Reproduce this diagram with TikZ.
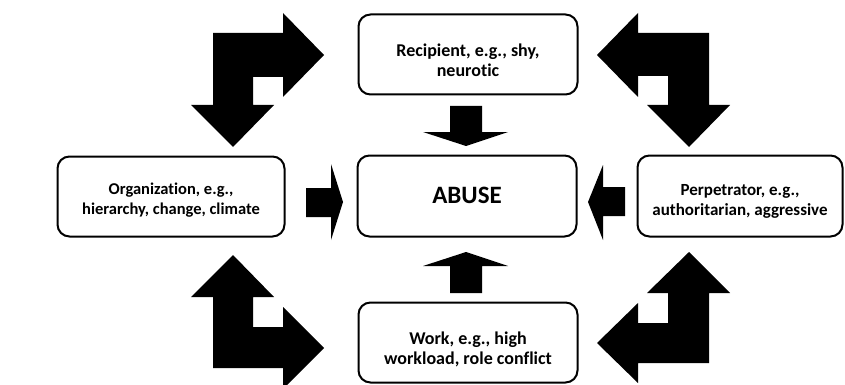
\documentclass[tikz,border=0pt]{standalone}
\usepackage{fontspec}
\setmainfont{Carlito}[Ligatures=NoCommon]
\begin{document}
\begin{tikzpicture}[x=1pt,y=-1pt,
  box/.style={draw=black,line width=2pt,rounded corners=12pt,inner sep=0pt},
  txt/.style={align=center,inner sep=0pt,font=\bfseries\fontsize{16.5}{20}\selectfont},
  bigtxt/.style={txt,font=\bfseries\fontsize{18}{20}\selectfont},
  blockarrow/.style={fill=black,draw=none}]
\useasboundingbox (0,0) rectangle (845,385);
\clip (0,0) rectangle (845,385);
% boxes
\node[box,minimum width=219pt,minimum height=80pt] (rec) at (468,54.5) {};
\node[bigtxt] (rect) at ([yshift=-6pt]rec.center) {Recipient, e.g., shy,\\neurotic};
\node[box,minimum width=219pt,minimum height=81pt] (abuse) at (467,196) {};
\node[txt,font=\bfseries\fontsize{25}{28}\selectfont] (abuset) at ([yshift=1pt]abuse.center) {ABUSE};
\node[box,minimum width=219pt,minimum height=80pt] (work) at (468,342.5) {};
\node[bigtxt] (workt) at ([yshift=-7pt]work.center) {Work, e.g., high\\workload, role conflict};
\node[box,minimum width=227pt,minimum height=80pt] (org) at (171,196.5) {};
\node[txt] (orgt) at ([yshift=-4pt]org.center) {Organization, e.g.,\\hierarchy, change, climate};
\node[box,minimum width=205pt,minimum height=81pt] (perp) at (740,196) {};
\node[txt,font=\bfseries\fontsize{17}{20}\selectfont] (perpt) at ([yshift=-5pt]perp.center) {Perpetrator, e.g.,\\authoritarian, aggressive};
% straight block arrows
\fill[blockarrow] (450,106) -- (482,106) -- (482,132) -- (508,132) -- (466,146) -- (423,132) -- (450,132) -- cycle;
\fill[blockarrow] (466,252) -- (508,266) -- (482,266) -- (482,293) -- (450,293) -- (450,266) -- (423,266) -- cycle;
\fill[blockarrow] (306,188) -- (331,188) -- (331,164) -- (343,202) -- (331,240) -- (331,217) -- (306,217) -- cycle;
\fill[blockarrow] (625,187) -- (603,187) -- (603,165) -- (588,202) -- (603,240) -- (603,216) -- (625,216) -- cycle;
% bent block arrows
\fill[blockarrow] (213,33) -- (283,33) -- (283,13) -- (324,55) -- (283,97) -- (283,77) -- (253,77) -- (253,105) -- (274,105) -- (233,147) -- (191,105) -- (213,105) -- cycle;
\fill[blockarrow] (709,33) -- (638,33) -- (638,13) -- (597,55) -- (638,97) -- (638,76) -- (668,76) -- (668,105) -- (647,105) -- (689,147) -- (730,105) -- (709,105) -- cycle;
\fill[blockarrow] (233,255) -- (274,297) -- (253,297) -- (253,327) -- (283,327) -- (283,307) -- (324,348) -- (283,389) -- (283,368) -- (213,368) -- (213,297) -- (191,297) -- cycle;
\fill[blockarrow] (689,252) -- (730,293) -- (709,293) -- (709,363) -- (638,363) -- (638,383) -- (597,343) -- (638,303) -- (638,323) -- (668,323) -- (668,293) -- (647,293) -- cycle;
\end{tikzpicture}
\end{document}
